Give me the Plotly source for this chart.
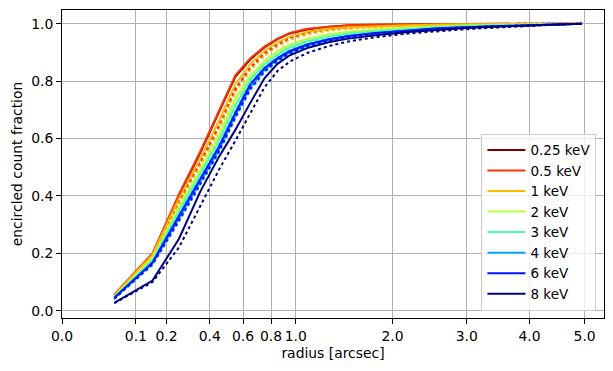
import numpy as np
import plotly.graph_objects as go

radius = [0.05, 0.15, 0.25, 0.35, 0.45, 0.55, 0.65, 0.75, 0.85, 0.95, 1.1, 1.3, 1.5, 1.8, 2.2, 2.6, 3.0, 3.5, 4.0, 4.5, 4.95]

energies = ["0.25 keV", "0.5 keV", "1 keV", "2 keV", "3 keV", "4 keV", "6 keV", "8 keV"]
colors = ["#800000", "#ff3200", "#ffb900", "#b6ff41", "#41ffb6", "#00a4ff", "#0012ff", "#000080"]

solid_025 = [0.054, 0.197, 0.400, 0.550, 0.690, 0.815, 0.876, 0.917, 0.946, 0.966, 0.980, 0.989, 0.994, 0.996, 0.998, 0.999, 0.999, 1.0, 1.0, 1.0, 1.0]
solid_05 = [0.056, 0.200, 0.405, 0.555, 0.695, 0.820, 0.880, 0.920, 0.948, 0.968, 0.982, 0.990, 0.995, 0.997, 0.998, 0.999, 0.999, 1.0, 1.0, 1.0, 1.0]
solid_1 = [0.053, 0.195, 0.390, 0.530, 0.660, 0.790, 0.860, 0.905, 0.935, 0.955, 0.972, 0.982, 0.988, 0.992, 0.995, 0.997, 0.998, 0.999, 1.0, 1.0, 1.0]
solid_2 = [0.049, 0.185, 0.360, 0.490, 0.610, 0.740, 0.820, 0.870, 0.905, 0.928, 0.948, 0.963, 0.972, 0.980, 0.987, 0.991, 0.994, 0.996, 0.998, 0.999, 1.0]
solid_3 = [0.046, 0.175, 0.345, 0.475, 0.590, 0.715, 0.805, 0.858, 0.892, 0.917, 0.938, 0.955, 0.965, 0.974, 0.982, 0.988, 0.991, 0.994, 0.996, 0.998, 1.0]
solid_4 = [0.043, 0.165, 0.320, 0.450, 0.560, 0.680, 0.780, 0.838, 0.875, 0.900, 0.924, 0.943, 0.955, 0.967, 0.977, 0.984, 0.988, 0.992, 0.995, 0.998, 1.0]
solid_6 = [0.045, 0.168, 0.330, 0.460, 0.570, 0.690, 0.790, 0.845, 0.880, 0.905, 0.928, 0.946, 0.957, 0.968, 0.977, 0.984, 0.988, 0.992, 0.995, 0.998, 1.0]
solid_8 = [0.027, 0.105, 0.250, 0.415, 0.535, 0.630, 0.725, 0.810, 0.860, 0.890, 0.915, 0.935, 0.948, 0.960, 0.971, 0.979, 0.985, 0.990, 0.994, 0.997, 1.0]

dot_025 = [0.052, 0.190, 0.380, 0.515, 0.640, 0.770, 0.845, 0.895, 0.927, 0.950, 0.968, 0.980, 0.986, 0.991, 0.994, 0.996, 0.998, 0.999, 1.0, 1.0, 1.0]
dot_05 = [0.053, 0.192, 0.383, 0.518, 0.643, 0.773, 0.848, 0.897, 0.929, 0.951, 0.969, 0.981, 0.987, 0.991, 0.994, 0.996, 0.998, 0.999, 1.0, 1.0, 1.0]
dot_1 = [0.050, 0.183, 0.370, 0.505, 0.630, 0.760, 0.838, 0.888, 0.920, 0.943, 0.962, 0.975, 0.982, 0.988, 0.992, 0.995, 0.997, 0.998, 0.999, 1.0, 1.0]
dot_2 = [0.047, 0.178, 0.350, 0.480, 0.600, 0.728, 0.812, 0.864, 0.900, 0.923, 0.944, 0.960, 0.970, 0.978, 0.986, 0.990, 0.993, 0.996, 0.998, 0.999, 1.0]
dot_3 = [0.044, 0.170, 0.335, 0.465, 0.580, 0.705, 0.797, 0.852, 0.887, 0.912, 0.934, 0.952, 0.962, 0.972, 0.980, 0.986, 0.990, 0.993, 0.996, 0.998, 1.0]
dot_4 = [0.041, 0.160, 0.310, 0.440, 0.550, 0.670, 0.770, 0.830, 0.868, 0.895, 0.920, 0.940, 0.952, 0.965, 0.975, 0.983, 0.987, 0.991, 0.995, 0.998, 1.0]
dot_6 = [0.042, 0.162, 0.315, 0.445, 0.555, 0.675, 0.775, 0.835, 0.872, 0.898, 0.922, 0.942, 0.954, 0.966, 0.976, 0.983, 0.988, 0.992, 0.995, 0.998, 1.0]
dot_8 = [0.026, 0.100, 0.220, 0.365, 0.490, 0.592, 0.690, 0.778, 0.835, 0.868, 0.898, 0.922, 0.938, 0.953, 0.966, 0.975, 0.981, 0.987, 0.993, 0.997, 1.0]

solids = [solid_025, solid_05, solid_1, solid_2, solid_3, solid_4, solid_6, solid_8]
dots = [dot_025, dot_05, dot_1, dot_2, dot_3, dot_4, dot_6, dot_8]

tick_values = [0.0, 0.1, 0.2, 0.4, 0.6, 0.8, 1.0, 2.0, 3.0, 4.0, 5.0]
tick_labels = ["0.0", "0.1", "0.2", "0.4", "0.6", "0.8", "1.0", "2.0", "3.0", "4.0", "5.0"]
ytick_values = [0.0, 0.2, 0.4, 0.6, 0.8, 1.0]
ytick_labels = ["0.0", "0.2", "0.4", "0.6", "0.8", "1.0"]

xs = np.sqrt(np.array(radius))

fig = go.Figure()
for name, col, s, d in zip(energies, colors, solids, dots):
    fig.add_trace(go.Scatter(x=xs, y=s, mode="lines", name=name, legendgroup=name,
                             line=dict(color=col, width=2)))
    fig.add_trace(go.Scatter(x=xs, y=d, mode="lines", name=name + " (dotted)", legendgroup=name,
                             showlegend=False, line=dict(color=col, width=2, dash="dot")))

font = dict(family="DejaVu Sans", size=13.9, color="black")
fig.update_layout(
    width=613, height=371,
    margin=dict(l=62, r=9, t=10, b=53),
    paper_bgcolor="white", plot_bgcolor="white",
    font=font,
    showlegend=True,
    legend=dict(x=0.986, y=0.024, xanchor="right", yanchor="bottom",
                bgcolor="rgba(255,255,255,0.8)", bordercolor="#cccccc", borderwidth=1,
                font=dict(family="DejaVu Sans", size=13.5, color="black"),
                traceorder="normal", itemwidth=38),
)
fig.update_xaxes(
    range=[0, 2.319],
    tickvals=list(np.sqrt(np.array(tick_values))), ticktext=tick_labels,
    showgrid=True, gridcolor="#b0b0b0", gridwidth=0.8,
    ticks="outside", ticklen=5, tickcolor="black", tickwidth=1,
    showline=True, linecolor="black", linewidth=1, mirror=True,
    zeroline=False,
    title=dict(text="radius [arcsec]", font=font, standoff=5),
)
fig.update_yaxes(
    range=[-0.0254, 1.0477],
    tickvals=ytick_values, ticktext=ytick_labels,
    showgrid=True, gridcolor="#b0b0b0", gridwidth=0.8,
    ticks="outside", ticklen=5, tickcolor="black", tickwidth=1,
    showline=True, linecolor="black", linewidth=1, mirror=True,
    zeroline=False,
    title=dict(text="encircled count fraction", font=font, standoff=5),
)
fig.write_html("out.html", config={"displayModeBar": False})

with open("out.html", "r", encoding="utf-8") as f:
    html = f.read()
html = html.replace("<body>", '<body style="margin:0;padding:0;">', 1)
with open("out.html", "w", encoding="utf-8") as f:
    f.write(html)
